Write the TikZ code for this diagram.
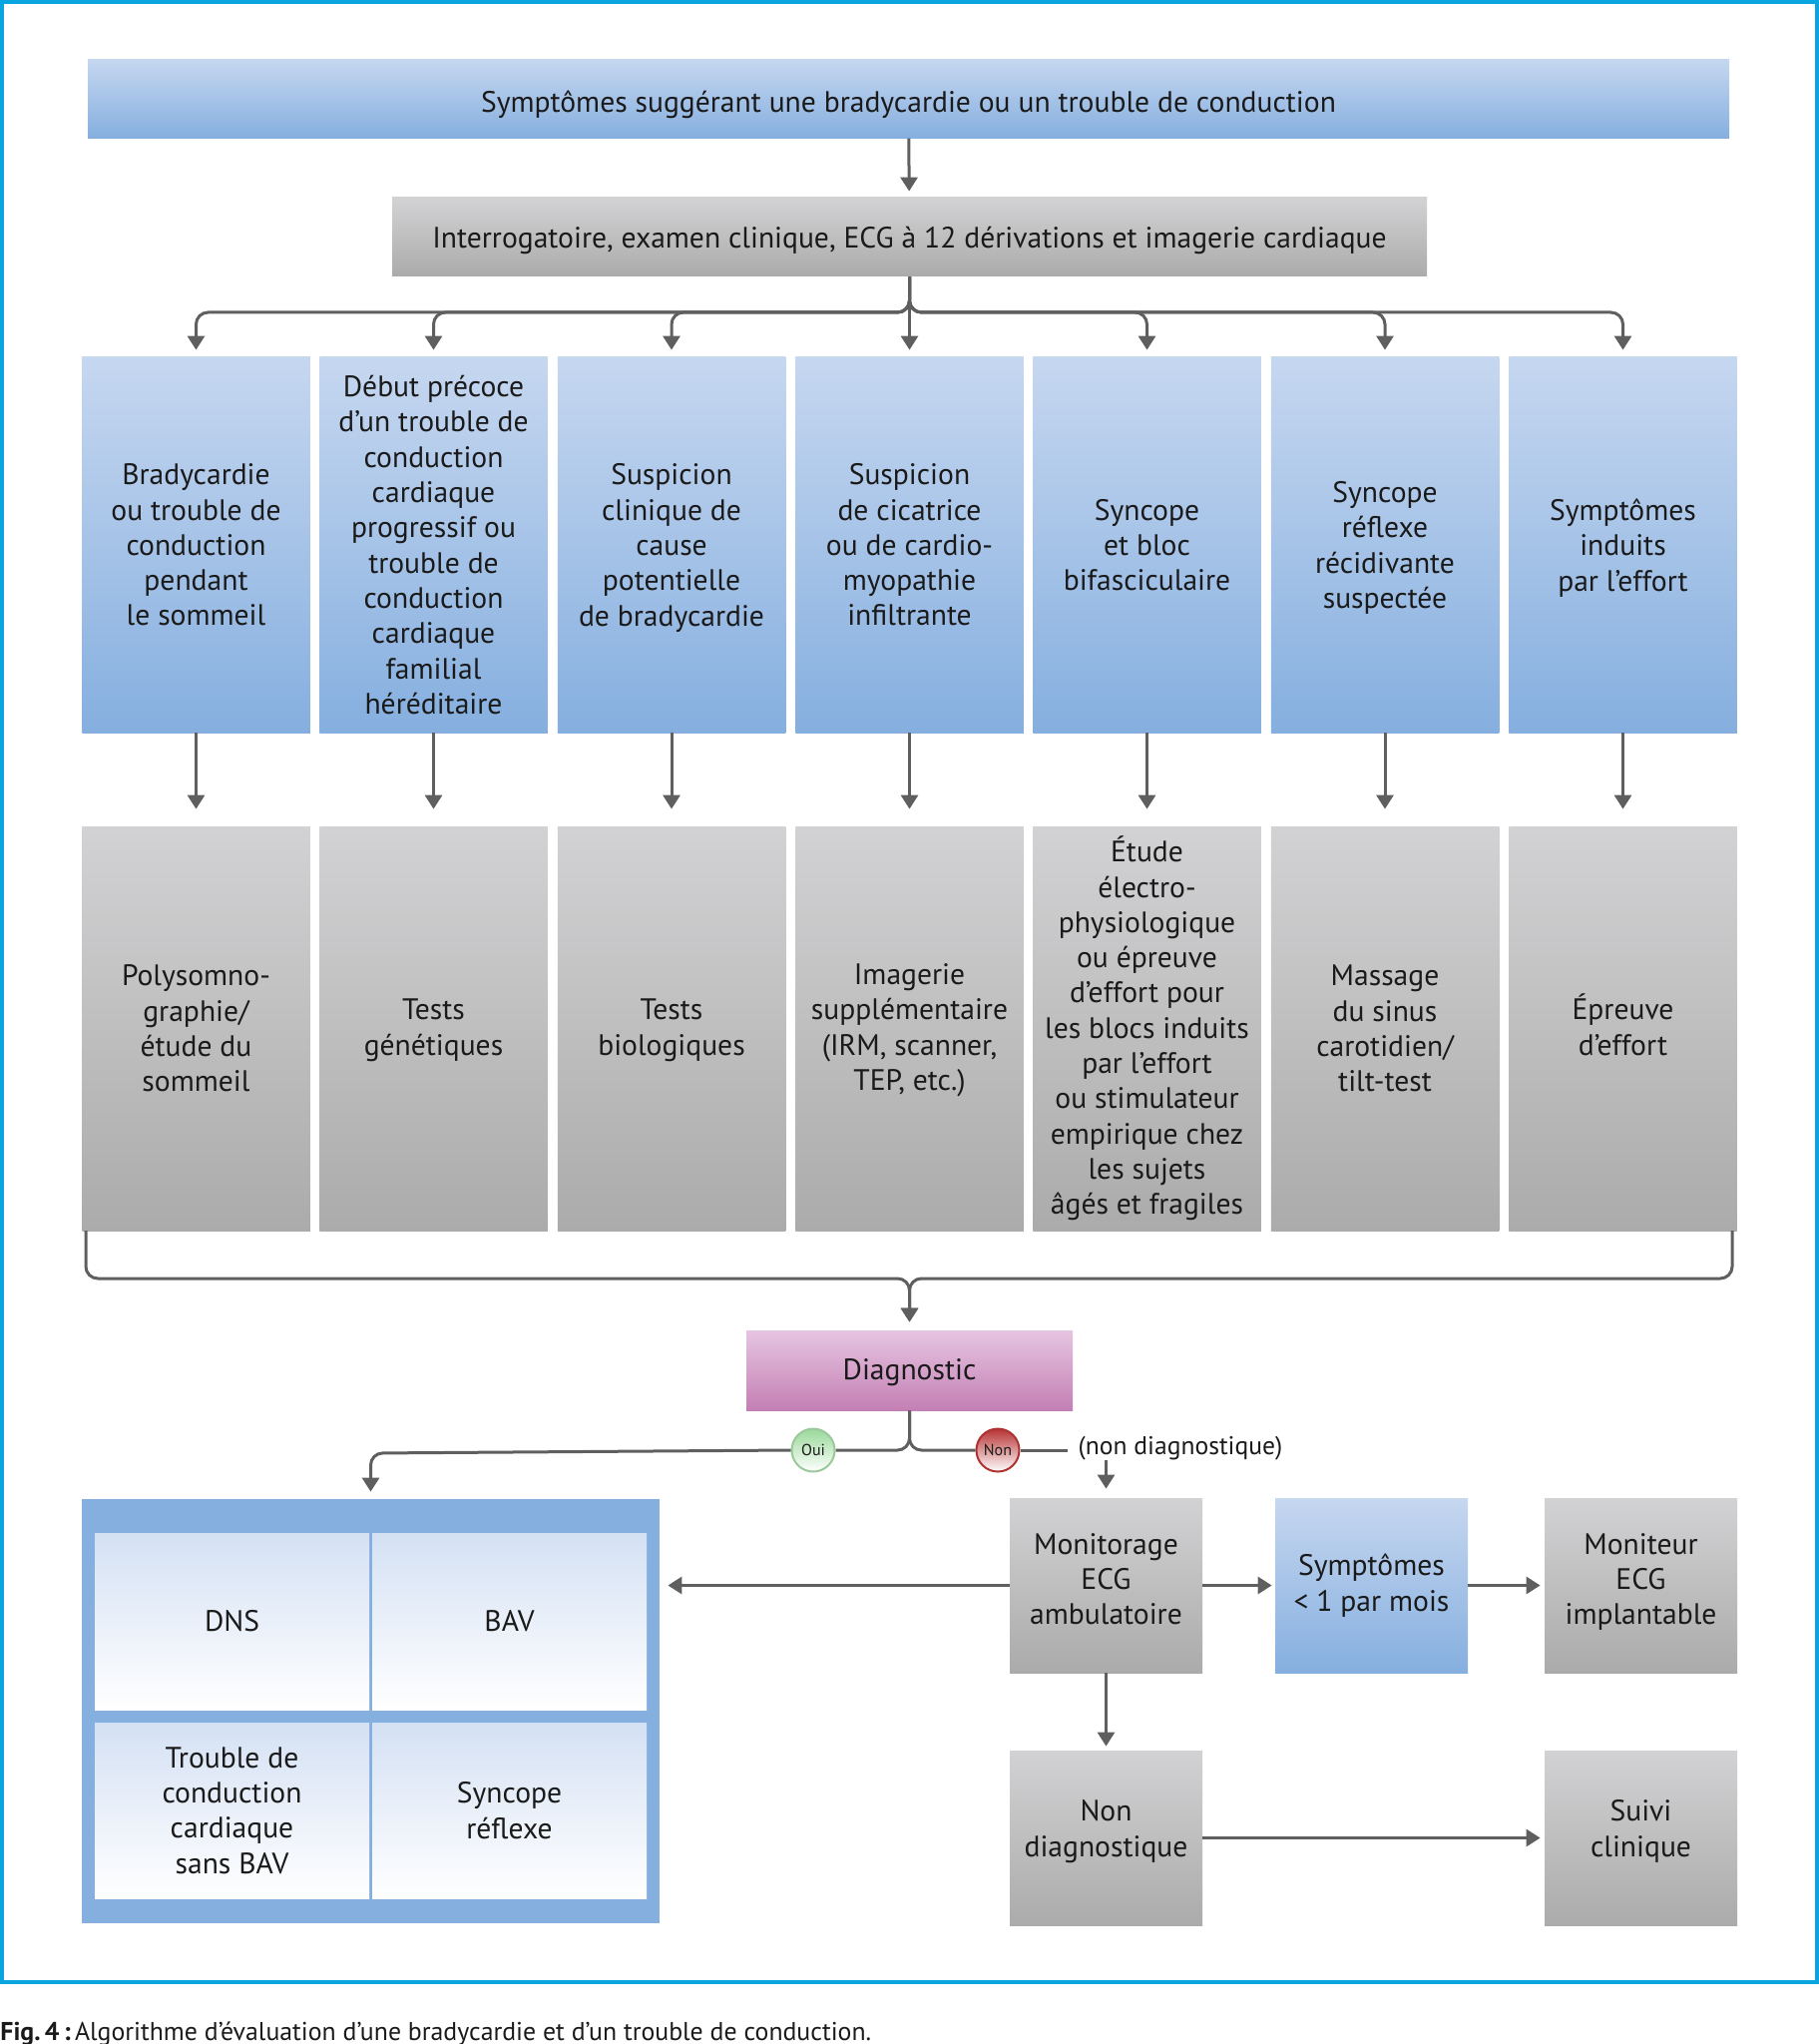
\documentclass[tikz,border=0pt]{standalone}
\usepackage{fontspec}
\setmainfont{PT Sans}
\usetikzlibrary{arrows.meta}
\definecolor{framecol}{HTML}{0AA5E0}
\definecolor{linecol}{HTML}{5F5F5F}
\definecolor{textcol}{HTML}{1A1A1A}
\definecolor{bluetop}{HTML}{C6D7F0}
\definecolor{bluebot}{HTML}{85AFDF}
\definecolor{greytop}{HTML}{D2D2D4}
\definecolor{greybot}{HTML}{ABABAB}
\definecolor{pinktop}{HTML}{E6C5E1}
\definecolor{pinkbot}{HTML}{C47FB4}
\tikzset{
  basebox/.style={inner sep=0pt,align=center,text=textcol,font=\fontsize{14.8}{17.65}\selectfont},
  bluebox/.style={basebox,top color=bluetop,bottom color=bluebot},
  greybox/.style={basebox,top color=greytop,bottom color=greybot},
  pinkbox/.style={basebox,top color=pinktop,bottom color=pinkbot},
  bluecol/.style={bluebox,minimum width=114.25pt,minimum height=188pt},
  greycol/.style={greybox,minimum width=114.25pt,minimum height=202.5pt},
  smallbox/.style={minimum width=96.5pt,minimum height=87.5pt},
  cellbox/.style={basebox,top color=bluetop!75!white,bottom color=white,minimum width=137.5pt},
  ball/.style={circle,inner sep=0pt,minimum size=21.5pt,line width=1pt,text=textcol,font=\fontsize{8}{9}\selectfont},
  link/.style={draw=linecol,line width=1.5pt,rounded corners=6pt},
  arrow/.style={link,->,>={Triangle[length=7pt,width=8.5pt]}}
}
\begin{document}
\begin{tikzpicture}[x=0.5pt,y=-0.5pt]
\useasboundingbox (0,0) rectangle (1823,2048);
\draw [framecol,line width=2pt] (2,2) rectangle (1821,1986);
\node (symptoms) [bluebox,minimum width=822.5pt,minimum height=39.5pt,text height=14.1pt,text depth=0pt] at (910.5,98.7) {Symptômes suggérant une bradycardie ou un trouble de conduction};
\node (workup) [greybox,minimum width=518.5pt,minimum height=39.5pt,text height=11.3pt,text depth=0pt] at (911.5,237.5) {Interrogatoire, examen clinique, ECG à 12 dérivations et imagerie cardiaque};
\coordinate (fan) at (911.5,313);
% first row
\node (sleep) [bluecol] at (196.5,546) {Bradycardie\\ou trouble de\\conduction\\pendant\\le sommeil};
\node (early) [bluecol] at (434.5,546) {Début précoce\\d’un trouble de\\conduction\\cardiaque\\progressif ou\\trouble de\\conduction\\cardiaque\\familial\\héréditaire};
\node (cause) [bluecol,text depth=0pt] at (673,546) {Suspicion\\clinique de\\cause\\potentielle\\de bradycardie};
\node (scar) [bluecol] at (911.5,546) {Suspicion\\de cicatrice\\ou de cardio-\\myopathie\\infiltrante};
\node (bloc) [bluecol] at (1149.5,546) {Syncope\\et bloc\\bifasciculaire};
\node (reflex) [bluecol,text depth=0pt] at (1388,546) {Syncope\\réflexe\\récidivante\\suspectée};
\node (effort) [bluecol,text depth=0pt] at (1626.5,546) {Symptômes\\induits\\par l’effort};
% second row
\node (polysom) [greycol] at (196.5,1030.5) {Polysomno-\\graphie/\\étude du\\sommeil};
\node (genetic) [greycol,text depth=1.5pt] at (434.5,1030.5) {Tests\\génétiques};
\node (bio) [greycol,text depth=1.5pt] at (673,1030.5) {Tests\\biologiques};
\node (imaging) [greycol,text depth=1.5pt] at (911.5,1030.5) {Imagerie\\supplémentaire\\(IRM, scanner,\\TEP, etc.)};
\node (ephys) [greycol] at (1149.5,1030.5) {Étude\\électro-\\physiologique\\ou épreuve\\d’effort pour\\les blocs induits\\par l’effort\\ou stimulateur\\empirique chez\\les sujets\\âgés et fragiles};
\node (massage) [greycol] at (1388,1030.5) {Massage\\du sinus\\carotidien/\\tilt-test};
\node (stress) [greycol,text depth=4pt] at (1626.5,1030.5) {Épreuve\\d’effort};
\coordinate (bracel) at (86,1233);
\coordinate (bracer) at (1736,1233);
\coordinate (bracem) at (911.5,1281);
\node (diag) [pinkbox,minimum width=163.5pt,minimum height=40pt,text height=9.9pt,text depth=0pt] at (911.5,1373) {Diagnostic};
\node (oui) [ball,draw=green!30!gray!60!white,top color=green!45!gray!55!white,bottom color=white] at (815,1453) {Oui};
\node (non) [ball,draw=red!60!black!80!white,top color=red!65!black!80!white,bottom color=white] at (1000,1453) {Non};
\coordinate (nonend) at (1070,1453);
\coordinate (ouiturn) at (371.5,1456);
\node (nonlabel) [basebox,inner sep=0pt,font=\fontsize{12.8}{15}\selectfont] at (1183,1451) {(non diagnostique)};
% results panel
\node (panel) [fill=bluebot,minimum width=289.5pt,minimum height=212.5pt] at (371.5,1714.5) {};
\node (dns) [cellbox,minimum height=88.5pt] at (232.5,1624.5) {DNS};
\node (bav) [cellbox,minimum height=88.5pt] at (510.5,1624.5) {BAV};
\node (sansbav) [cellbox,minimum height=88pt] at (232.5,1814) {Trouble de\\conduction\\cardiaque\\sans BAV};
\node (syncope) [cellbox,minimum height=88pt] at (510.5,1814) {Syncope\\réflexe};
% lower right boxes
\node (monit) [greybox,smallbox,text depth=6.5pt] at (1108.5,1588.5) {Monitorage\\ECG\\ambulatoire};
\node (rare) [bluebox,smallbox] at (1374.5,1588.5) {Symptômes\\< 1 par mois};
\node (implant) [greybox,smallbox,text depth=6.5pt] at (1644.5,1588.5) {Moniteur\\ECG\\implantable};
\node (nondiag) [greybox,smallbox,text depth=9.5pt] at (1108.5,1841.5) {Non\\diagnostique};
\node (followup) [greybox,smallbox,text depth=9.5pt] at (1644.5,1841.5) {Suivi\\clinique};
\node (caption) [anchor=west,inner sep=0pt,text=textcol,font=\fontsize{12.9}{15}\selectfont] at (0,2038) {\textbf{Fig.\,4\,:}\,Algorithme d’évaluation d’une bradycardie et d’un trouble de conduction.};
% connectors
\draw [arrow,shorten >=3pt] (symptoms) -- (workup);
\draw [arrow,shorten >=3.5pt] (workup.south) -- (fan) -| (sleep.north);
\draw [arrow,shorten >=3.5pt] (workup.south) -- (fan) -| (early.north);
\draw [arrow,shorten >=3.5pt] (workup.south) -- (fan) -| (cause.north);
\draw [arrow,shorten >=3.5pt] (workup.south) -- (scar.north);
\draw [arrow,shorten >=3.5pt] (workup.south) -- (fan) -| (bloc.north);
\draw [arrow,shorten >=3.5pt] (workup.south) -- (fan) -| (reflex.north);
\draw [arrow,shorten >=3.5pt] (workup.south) -- (fan) -| (effort.north);
\draw [arrow,shorten >=8.5pt] (sleep) -- (polysom);
\draw [arrow,shorten >=8.5pt] (early) -- (genetic);
\draw [arrow,shorten >=8.5pt] (cause) -- (bio);
\draw [arrow,shorten >=8.5pt] (scar) -- (imaging);
\draw [arrow,shorten >=8.5pt] (bloc) -- (ephys);
\draw [arrow,shorten >=8.5pt] (reflex) -- (massage);
\draw [arrow,shorten >=8.5pt] (effort) -- (stress);
\draw [arrow,shorten >=4pt] (bracel) |- (bracem) -- (diag.north);
\draw [arrow,shorten >=4pt] (bracer) |- (bracem) -- (diag.north);
\draw [link] (diag.south) |- (oui.east);
\draw [link] (diag.south) |- (non.west);
\draw [arrow,shorten >=3.5pt] (oui.west) -- (ouiturn) -- (panel.north);
\draw [link] (non.east) -- (nonend);
\draw [arrow,shorten >=4.5pt] (nonlabel.south -| monit.north) -- (monit.north);
\draw [arrow,shorten >=4pt] (monit.west) -- (monit.west -| panel.east);
\draw [arrow,shorten >=1.5pt] (monit) -- (rare);
\draw [arrow,shorten >=2pt] (rare) -- (implant);
\draw [arrow,shorten >=2pt] (monit) -- (nondiag);
\draw [arrow,shorten >=2pt] (nondiag) -- (followup);
\end{tikzpicture}
\end{document}
